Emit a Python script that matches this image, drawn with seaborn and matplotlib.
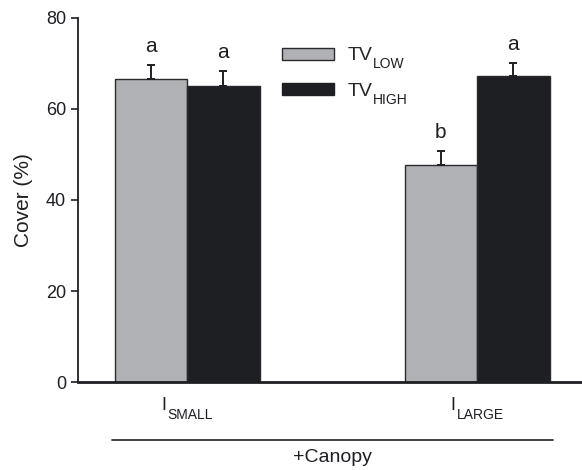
import matplotlib
matplotlib.use("Agg")
import matplotlib.pyplot as plt
import seaborn as sns
import pandas as pd
import numpy as np
from matplotlib.patches import Patch
from matplotlib.transforms import blended_transform_factory, offset_copy
from matplotlib.font_manager import FontProperties

group_main = ["I", "I"]
group_sub = ["SMALL", "LARGE"]
series_main = ["TV", "TV"]
series_sub = ["LOW", "HIGH"]
tv_low = [66.5, 47.7]
tv_high = [65.1, 67.3]
err_low = [3.2, 3.1]
err_high = [3.2, 2.7]
letters_low = ["a", "b"]
letters_high = ["a", "a"]
yticks = [0, 20, 40, 60, 80]

sns.set_theme(style="ticks")
plt.rcParams["font.family"] = ["Liberation Sans", "DejaVu Sans"]

groups = [m + s for m, s in zip(group_main, group_sub)]
series = [m + s for m, s in zip(series_main, series_sub)]
df = pd.DataFrame({
    "group": groups * 2,
    "series": [series[0]] * 2 + [series[1]] * 2,
    "value": tv_low + tv_high,
})

colors = ["#b0b1b5", "#1e1f23"]
ink = "#1e1f23"
fig = plt.figure(figsize=(5.82, 4.70), dpi=100)
ax = fig.add_axes([0.134, 0.187, 0.866, 0.775])

sns.barplot(data=df, x="group", y="value", hue="series", palette=colors,
            width=0.5, gap=0, errorbar=None, ax=ax, legend=False,
            edgecolor="#2a2a2e", linewidth=1.0, saturation=1)

errs = [err_low, err_high]
lets = [letters_low, letters_high]
bar_containers = list(ax.containers)
for ci, cont in enumerate(bar_containers):
    for bi, bar in enumerate(cont):
        xc = bar.get_x() + bar.get_width() / 2
        h = bar.get_height()
        e = errs[ci][bi]
        ax.errorbar([xc], [h], yerr=[[0], [e]], fmt="none", ecolor=ink,
                    elinewidth=1.4, capsize=3.0, capthick=1.4, zorder=3)
        ax.text(xc, h + e + 2.0, lets[ci][bi], ha="center", va="bottom",
                fontsize=15, color=ink)

ax.set_ylim(0, 80)
ax.set_xlim(-0.376, 1.362)
ax.set_yticks(yticks)
ax.tick_params(axis="y", labelsize=13, length=5, width=1.2, colors=ink)
ax.tick_params(axis="x", length=0)
ax.set_xticklabels(["", ""])
ax.set_xlabel("")
ax.set_ylabel("Cover (%)", fontsize=15, color=ink, labelpad=9)
for s in ["top", "right"]:
    ax.spines[s].set_visible(False)
ax.spines["left"].set_linewidth(1.3)
ax.spines["bottom"].set_linewidth(2.0)
ax.spines["left"].set_color(ink)
ax.spines["bottom"].set_color(ink)

handles = [Patch(facecolor=colors[0], edgecolor="#2a2a2e", linewidth=1.0),
           Patch(facecolor=colors[1], edgecolor=colors[1])]
leg = ax.legend(handles, series_main, loc="upper left",
                bbox_to_anchor=(0.39, 0.94),
                frameon=False, fontsize=14, handlelength=2.68, handleheight=0.57,
                labelspacing=0.95, handletextpad=0.67, borderaxespad=0)

tr = blended_transform_factory(ax.transData, ax.transAxes)
ax.plot([-0.26, 1.262], [-0.16, -0.16], transform=tr, color=ink,
        linewidth=1.2, clip_on=False)
ax.text(0.5, -0.185, "+Canopy", transform=tr, ha="center", va="top",
        fontsize=14, color=ink)

fig.canvas.draw()
renderer = fig.canvas.get_renderer()
px_per_pt = fig.dpi / 72.0

# x tick labels with subscripts
for i, (m, s) in enumerate(zip(group_main, group_sub)):
    fm = FontProperties(family="Liberation Sans", size=13)
    fs = FontProperties(family="Liberation Sans", size=10)
    wm, _, _ = renderer.get_text_width_height_descent(m, fm, ismath=False)
    ws, _, _ = renderer.get_text_width_height_descent(s, fs, ismath=False)
    gap = 1.0
    total = wm + gap + ws
    t0 = offset_copy(tr, fig=fig, x=(-total / 2) / px_per_pt,
                     y=-28 / px_per_pt, units="points")
    ax.text(i, 0, m, transform=t0, ha="left", va="baseline",
            fontproperties=fm, color=ink, clip_on=False)
    t1 = offset_copy(tr, fig=fig, x=(-total / 2 + wm + gap) / px_per_pt,
                     y=-37 / px_per_pt, units="points")
    ax.text(i, 0, s, transform=t1, ha="left", va="baseline",
            fontproperties=fs, color=ink, clip_on=False)

# legend subscripts
for txt, s in zip(leg.get_texts(), series_sub):
    bb = txt.get_window_extent(renderer)
    fp = txt.get_fontproperties()
    _, _, d = renderer.get_text_width_height_descent("lp", fp, ismath=False)
    baseline = bb.y0 + d
    fig.text((bb.x1 + 0.5) / fig.bbox.width, (baseline - 8) / fig.bbox.height,
             s, fontsize=10, color=ink, ha="left", va="baseline")

fig.savefig("out.png", dpi=100)
